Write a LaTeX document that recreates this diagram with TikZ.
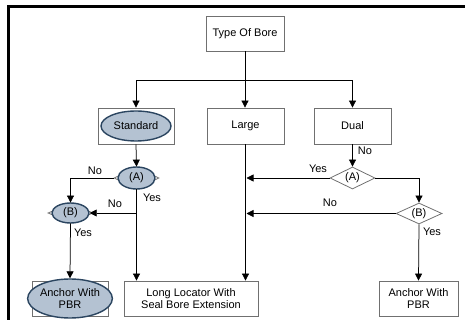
\documentclass[tikz,border=0pt]{standalone}
\usepackage{fontspec}
\setmainfont{Liberation Sans}
\usetikzlibrary{arrows.meta,shapes.geometric}
\definecolor{efill}{HTML}{B4C2D2}
\definecolor{edraw}{HTML}{2B4560}
\definecolor{bdraw}{HTML}{707070}
\begin{document}
\begin{tikzpicture}[x=1pt,y=1pt,
  every node/.style={font=\fontsize{11}{12.5}\selectfont, inner sep=0pt},
  box/.style={draw=bdraw, line width=0.8pt, rectangle, align=center},
  oval/.style={ellipse, draw=edraw, line width=1.4pt, fill=efill, align=center},
  dia/.style={diamond, draw=bdraw, line width=0.8pt, aspect=2},
  lab/.style={font=\fontsize{11}{12.5}\selectfont},
  arr/.style={-{Triangle[length=7pt,width=7pt]}, line width=0.75pt},
  ln/.style={line width=0.75pt}]
\useasboundingbox (0,0) rectangle (465,-320);
\draw[line width=3pt] (8.5,-320) -- (8.5,-6.5) -- (465,-6.5);

% top
\node[box, minimum width=78pt, minimum height=35pt] (tob) at (245,-33.5) {Type Of Bore};
% second row
\node[box, minimum width=76pt, minimum height=36pt] (std) at (136,-126) {};
\node[oval, minimum width=70pt, minimum height=30pt] (stdo) at (136,-126) {Standard};
\node[box, minimum width=77pt, minimum height=36pt] (large) at (245.5,-126) {Large};
\node[box, minimum width=77pt, minimum height=36pt] (dual) at (352.5,-126) {Dual};
% left decisions
\node[dia, minimum width=45pt, minimum height=22pt] (Al) at (136.5,-178) {};
\node[oval, minimum width=37pt, minimum height=22pt] (Alo) at (136.5,-178) {(A)};
\node[dia, minimum width=45pt, minimum height=20pt] (Bl) at (70.5,-213) {};
\node[oval, minimum width=37pt, minimum height=20pt] (Blo) at (70.5,-213) {(B)};
% right decisions
\node[dia, minimum width=45pt, minimum height=22pt] (Ar) at (352.5,-178) {(A)};
\node[dia, minimum width=46pt, minimum height=21pt] (Br) at (419,-213.5) {(B)};
% bottom row
\node[box, minimum width=76pt, minimum height=35pt] (ancL) at (70,-298.5) {};
\node[oval, minimum width=80pt, minimum height=39pt] (ancLo) at (70,-298.5) {Anchor With\\PBR};
\node[box, minimum width=134pt, minimum height=35pt] (long) at (191,-298.5) {Long Locator With\\Seal Bore Extension};
\node[box, minimum width=79pt, minimum height=35pt] (ancR) at (418.5,-298.5) {Anchor With\\PBR};

% top connectors
\coordinate (j0) at (245,-80);
\draw[arr] (tob.south) -- (tob.south |- large.north);
\draw[arr] (j0) -| (std.north);
\draw[arr] (j0) -| (dual.north);

% left branch
\draw[arr] (std.south) -- (Al.north);
\draw[arr] (Al.west) -| (Bl.north);
\node[lab] (nol1) at (95,-171) {No};
\coordinate (jl) at (Al.south |- Bl.east);
\draw[arr] (Al.south) -- (Al.south |- long.north);
\draw[arr] (jl) -- (Blo.east);
\node[lab] (nol2) at (115,-204) {No};
\node[lab] (yesl1) at (152,-198) {Yes};
\draw[arr] (Bl.south) -- (ancLo.north);
\node[lab] (yesl2) at (83,-233) {Yes};

% large
\draw[arr] (large.south) -- (large.south |- long.north);

% right branch
\draw[arr] (dual.south) -- (Ar.north);
\node[lab] (nor1) at (365,-151) {No};
\coordinate (ra) at (246.5,-178);
\draw[arr] (Ar.west) -- (ra);
\node[lab] (yesr1) at (318,-169) {Yes};
\draw[arr] (Ar.east) -| (Br.north);
\coordinate (rb) at (246.5,-213.5);
\draw[arr] (Br.west) -- (rb);
\node[lab] (nor2) at (330,-203) {No};
\draw[arr] (Br.south) -- (ancR.north);
\node[lab] (yesr2) at (432,-232) {Yes};
\end{tikzpicture}
\end{document}
